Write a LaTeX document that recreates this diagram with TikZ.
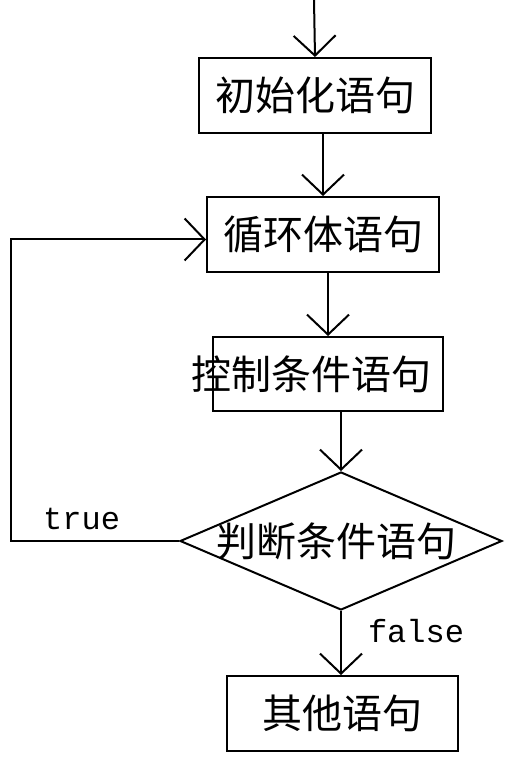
\documentclass[tikz,border=0pt]{standalone}
\usepackage{fontspec}
\newfontfamily\cjk{Noto Sans CJK SC}
\newfontfamily\codefont{Liberation Mono}
\usepackage{tikz}
\usetikzlibrary{shapes.geometric, arrows.meta, calc}

\begin{document}
\begin{tikzpicture}[x=1pt, y=1pt, line width=2pt,
    stmtbox/.style={draw, rectangle, inner sep=0pt, font=\cjk\fontsize{40}{44}\selectfont},
    decbox/.style={draw, diamond, inner sep=0pt, minimum width=322pt, minimum height=138pt, font=\cjk\fontsize{40}{44}\selectfont},
    flow/.style={-{Straight Barb[length=20pt, width=42pt]}},
    tag/.style={inner sep=0pt, font=\codefont\fontsize{32}{34}\selectfont}]
  \useasboundingbox (0,0) rectangle (510,759);

  \coordinate (start) at (314,759);
  \node[stmtbox, minimum width=232pt, minimum height=75pt] (init) at (315,663.5) {初始化语句};
  \node[stmtbox, minimum width=232pt, minimum height=75pt] (body) at (323,524.5) {循环体语句};
  \node[stmtbox, minimum width=230pt, minimum height=74pt,
        label={[font=\cjk\fontsize{40}{44}\selectfont, inner sep=0pt, xshift=-17pt]center:控制条件语句}] (ctrl) at (328,385) {};
  \node[decbox, label={[font=\cjk\fontsize{40}{44}\selectfont, inner sep=0pt, xshift=-5pt]center:判断条件语句}] (cond) at (341,218) {};
  \node[stmtbox, minimum width=231pt, minimum height=75pt] (other) at (342.5,45.5) {其他语句};

  % main flow
  \draw[flow] (start) -- (init.north);
  \draw[flow] (body.north |- init.south) -- (body.north);
  \draw[flow] (ctrl.north |- body.south) -- (ctrl.north);
  \draw[flow] (cond.north |- ctrl.south) -- (cond.north);
  \draw[flow] (cond.south) -- node[tag, anchor=base west, xshift=26pt] {false} (cond.south |- other.north);

  % loop back
  \draw[flow] (cond.west) -- node[tag, above=10pt, pos=0.58] {true} ++(-168,0) |- ([yshift=-5pt]body.west);
\end{tikzpicture}
\end{document}
